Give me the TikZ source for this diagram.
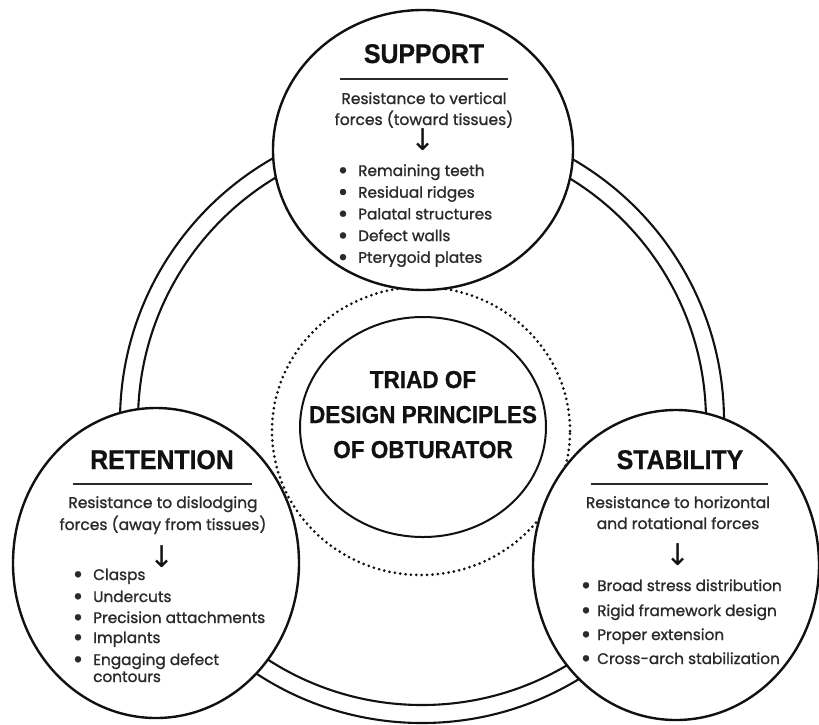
\documentclass[tikz,border=0pt]{standalone}
\usepackage{fontspec}
\setmainfont[FakeBold=1.2]{Poppins}
\newfontfamily\titlefont[FakeStretch=0.92,BoldFeatures={FakeBold=0.8}]{Liberation Sans}
\newfontfamily\symfont{DejaVu Sans}
\definecolor{ink}{HTML}{111111}
\definecolor{txt}{HTML}{2A2A2A}
\tikzset{
  bigcirc/.style={draw=ink, line width=2.4pt, fill=white},
  ringline/.style={draw=ink, line width=2.1pt},
  dotline/.style={draw=ink, line width=3pt, line cap=round, dash pattern=on 0pt off 5.4pt},
  midcirc/.style={draw=ink, line width=2pt, fill=white},
  rulel/.style={draw=txt, line width=1.4pt},
  ttl/.style={font=\titlefont\bfseries\fontsize{27}{30}\selectfont, text=ink, inner sep=0pt, anchor=base},
  ctr/.style={font=\titlefont\bfseries\fontsize{24.5}{30}\selectfont, text=ink, inner sep=0pt, anchor=base},
  body/.style={font=\fontsize{15.5}{17}\selectfont, text=txt, inner sep=0pt, anchor=base},
  itm/.style={font=\fontsize{15.3}{17}\selectfont, text=txt, inner sep=0pt, anchor=base west},
  bul/.style={font=\bfseries\fontsize{20}{20}\selectfont, text=txt, inner sep=0pt, anchor=base},
  arr/.style={font=\symfont\fontsize{30}{30}\selectfont, text=ink, inner sep=0pt, anchor=center}
}
\begin{document}
\begin{tikzpicture}[x=1pt,y=-1pt]
\useasboundingbox (0,0) rectangle (819,724);
% outer double ring
\draw[ringline] (422,421) circle (302pt);
\draw[ringline] (422,421) circle (284pt);
% dotted circle
\draw[dotline] (421,431) ellipse [x radius=149pt, y radius=144pt];
% centre ellipse
\draw[midcirc] (423,427) ellipse [x radius=123pt, y radius=110pt];
\node[ctr] (c1) at (423,388) {TRIAD OF};
\node[ctr] (c2) at (423,423) {DESIGN PRINCIPLES};
\node[ctr] (c3) at (423,458) {OF OBTURATOR};
% three outer circles
\draw[bigcirc] (423,150) ellipse [x radius=150pt, y radius=140pt];
\draw[bigcirc] (156,563) ellipse [x radius=143pt, y radius=155pt];
\draw[bigcirc] (676,565) ellipse [x radius=143pt, y radius=155pt];
% SUPPORT
\node[ttl] (st) at (424,63) {SUPPORT};
\coordinate (sl1) at (340,79); \coordinate (sl2) at (508,79);
\draw[rulel] (sl1) -- (sl2);
\node[body] (sd1) at (424,104) {Resistance to vertical};
\node[body] (sd2) at (424,125) {forces (toward tissues)};
\node[arr] (sa) at (423,140) {↓};
\foreach \t [count=\i] in {Remaining teeth,Residual ridges,Palatal structures,Defect walls,Pterygoid plates}{
  \node[bul] (sb\i) at (343,{177+21.7*(\i-1)}) {•};
  \node[itm] (si\i) at (358,{176+21.7*(\i-1)}) {\t};
}
% RETENTION
\node[ttl] (rt) at (162,469) {RETENTION};
\coordinate (rl1) at (73,484); \coordinate (rl2) at (252,484);
\draw[rulel] (rl1) -- (rl2);
\node[body] (rd1) at (163,508) {Resistance to dislodging};
\node[body] (rd2) at (163,530) {forces (away from tissues)};
\node[arr] (ra) at (162,557) {↓};
\foreach \t/\yy [count=\i] in {Clasps/580,Undercuts/602,Precision attachments/623,Implants/643,Engaging defect/665}{
  \node[bul] (rb\i) at (78,\yy+1) {•};
  \node[itm] (ri\i) at (93,\yy) {\t};
}
\node[itm] (ri6) at (93,682) {contours};
% STABILITY
\node[ttl] (bt) at (680,469) {STABILITY};
\coordinate (bl1) at (591,484); \coordinate (bl2) at (768,484);
\draw[rulel] (bl1) -- (bl2);
\node[body] (bd1) at (678,508) {Resistance to horizontal};
\node[body] (bd2) at (678,529) {and rotational forces};
\node[arr] (ba) at (678,555) {↓};
\foreach \t/\yy [count=\i] in {Broad stress distribution/591,Rigid framework design/616,Proper extension/640,Cross-arch stabilization/664}{
  \node[bul] (bb\i) at (586,\yy+1) {•};
  \node[itm] (bi\i) at (597,\yy) {\t};
}
\end{tikzpicture}
\end{document}
